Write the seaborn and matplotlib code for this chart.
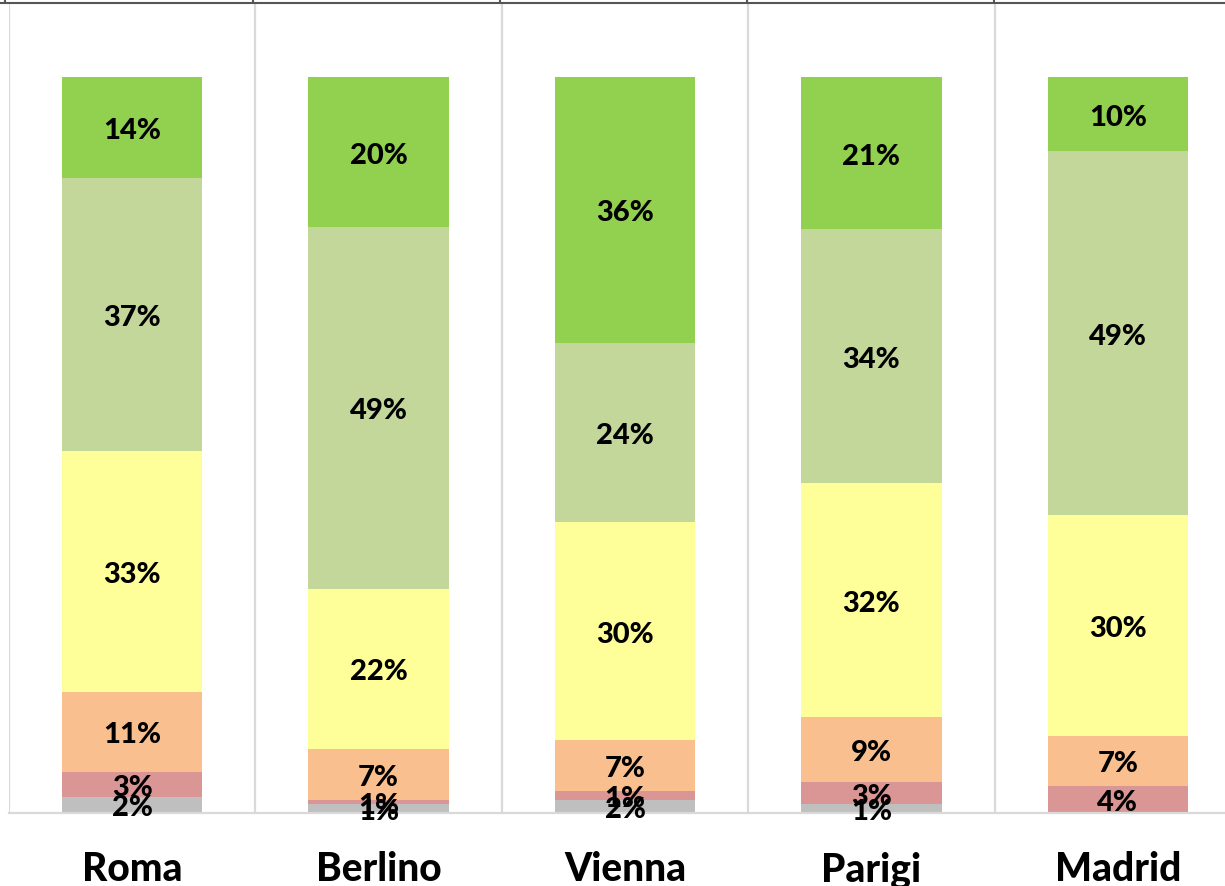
import numpy as np
import pandas as pd
import matplotlib
matplotlib.use("Agg")
import matplotlib.pyplot as plt
from matplotlib.lines import Line2D
import seaborn as sns

# Dati (percentuali per città, dal basso verso l'alto)
citta = ['Roma', 'Berlino', 'Vienna', 'Parigi', 'Madrid']
grigio = [2.2, 1.2, 1.8, 1.2, 0.0]
rosso = [3.4, 0.6, 1.2, 3.0, 3.7]
arancio = [10.9, 6.9, 6.9, 8.8, 6.8]
giallo = [32.7, 21.8, 29.6, 31.9, 30.0]
verde_chiaro = [37.1, 49.1, 24.4, 34.4, 49.4]
verde = [13.7, 20.4, 36.1, 20.7, 10.1]

serie = [grigio, rosso, arancio, giallo, verde_chiaro, verde]
colori = ['#BFBFBF', '#DA9694', '#FABF8F', '#FFFF99', '#C4D79B', '#92D050']

df = pd.DataFrame(np.array(serie).T, index=citta)
cumulato = df.cumsum(axis=1)

sns.set_style('white')
plt.rcParams['font.family'] = ['Lato', 'DejaVu Sans']

W, H = 1225, 887
fig = plt.figure(figsize=(W / 100, H / 100), dpi=100)
cat_w = 246.4
ax = fig.add_axes([9 / W, (H - 814) / H, 5 * cat_w / W, 736 * 1.1 / H])

# barre sovrapposte: dal cumulato più alto al più basso
for i in range(len(serie) - 1, -1, -1):
    sns.barplot(x=citta, y=cumulato[i].values, color=colori[i], width=0.57,
                linewidth=0, saturation=1, ax=ax)

# etichette percentuali
for j, c in enumerate(citta):
    base = 0
    for i, s in enumerate(serie):
        v = s[j]
        if v >= 0.5:
            ax.text(j, base + v / 2 - 0.35, f'{v:.0f}%', ha='center', va='center',
                    fontsize=21, fontweight='black', color='black')
        base += v

ax.set_xlim(-0.5, 4.5)
ax.set_ylim(0, 110)
ax.set_yticks([])
ax.set_xticks(range(5))
ax.set_xticklabels(citta, fontsize=28, fontweight='black', color='black')
ax.tick_params(axis='x', length=0, pad=27)
ax.set_xticks(np.arange(-0.5, 5, 1), minor=True)
ax.tick_params(axis='x', which='minor', length=0)
ax.grid(axis='x', which='minor', color='#D9D9D9', linewidth=1.6)
ax.grid(axis='x', which='major', visible=False)
ax.set_axisbelow(True)
for s in ['top', 'left', 'right']:
    ax.spines[s].set_visible(False)
ax.spines['bottom'].set_color('#D9D9D9')
ax.spines['bottom'].set_linewidth(1.6)
ax.set_xlabel('')
ax.set_ylabel('')

# bordo superiore della cella
fig.add_artist(Line2D([0, 1], [1 - 4 / H, 1 - 4 / H], transform=fig.transFigure,
                      color='#555555', linewidth=1.5))
for xp in [5, 253, 500, 747, 994]:
    fig.add_artist(Line2D([xp / W, xp / W], [1, 1 - 4 / H], transform=fig.transFigure,
                          color='#555555', linewidth=1.5))

fig.savefig('out.png', dpi=100)
